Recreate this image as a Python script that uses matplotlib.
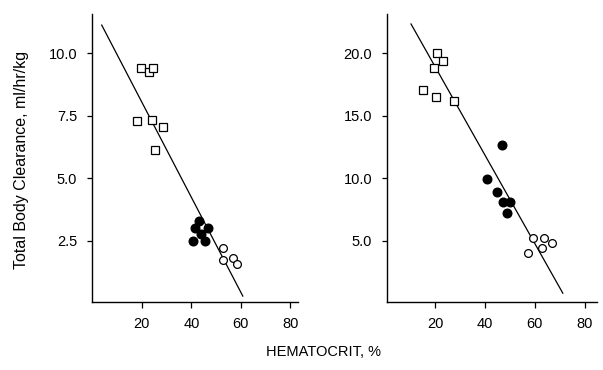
import matplotlib
matplotlib.use("Agg")
import matplotlib.pyplot as plt
import numpy as np

plt.rcParams['font.family'] = ['Liberation Sans', 'DejaVu Sans']

# left panel: total body clearance (ml/hr/kg) vs hematocrit (%)
left_sq_x = [19.6, 22.9, 24.5, 17.9, 24.1, 28.7, 25.2]
left_sq_y = [9.43, 9.24, 9.43, 7.30, 7.34, 7.04, 6.12]
left_fc_x = [43.1, 41.5, 46.9, 43.8, 40.6, 45.5]
left_fc_y = [3.30, 3.02, 3.02, 2.78, 2.50, 2.50]
left_oc_x = [52.7, 52.7, 57.0, 58.6]
left_oc_y = [2.22, 1.73, 1.82, 1.55]
left_fit = (11.86, -0.1905)   # intercept, slope
left_fit_range = (3.8, 60.8)

# right panel
right_sq_x = [20.7, 23.3, 19.6, 15.3, 20.4, 27.6]
right_sq_y = [20.0, 19.4, 18.8, 17.1, 16.5, 16.2]
right_fc_x = [46.7, 41.0, 44.7, 47.1, 50.1, 48.7]
right_fc_y = [12.64, 9.94, 8.93, 8.10, 8.10, 7.20]
right_oc_x = [59.4, 63.7, 66.8, 62.8, 57.4]
right_oc_y = [5.19, 5.19, 4.84, 4.44, 4.04]
right_fit = (26.05, -0.3548)
right_fit_range = (10.4, 71.2)

xticks = [20, 40, 60, 80]
left_yticks = [2.5, 5.0, 7.5, 10.0]
right_yticks = [5.0, 10.0, 15.0, 20.0]

W, H = 603, 370
fig = plt.figure(figsize=(W / 100, H / 100), dpi=100)
ax1 = fig.add_axes([92.3 / W, (H - 302) / H, (298 - 92.3) / W, (302 - 14) / H])
ax2 = fig.add_axes([387.3 / W, (H - 302) / H, (597 - 387.3) / W, (302 - 14) / H])


def draw(ax, sq_x, sq_y, fc_x, fc_y, oc_x, oc_y, fit, fit_range, yticks, xlim, ylim):
    xs = np.array(fit_range)
    ax.plot(xs, fit[0] + fit[1] * xs, color='black', lw=0.9, zorder=1)
    ax.plot(sq_x, sq_y, ls='none', marker='s', ms=5.2, mfc='white', mec='black', mew=0.9, zorder=2)
    ax.plot(fc_x, fc_y, ls='none', marker='o', ms=6.2, mfc='black', mec='black', zorder=2)
    ax.plot(oc_x, oc_y, ls='none', marker='o', ms=5.6, mfc='white', mec='black', mew=0.9, zorder=2)
    ax.set_xlim(*xlim)
    ax.set_ylim(*ylim)
    ax.set_xticks(xticks)
    ax.set_yticks(yticks)
    ax.set_yticklabels(['%.1f' % v for v in yticks])
    ax.spines['top'].set_visible(False)
    ax.spines['right'].set_visible(False)
    ax.spines['left'].set_linewidth(1.0)
    ax.spines['bottom'].set_linewidth(1.0)
    ax.tick_params(axis='x', direction='out', length=4.5, width=0.9, pad=6, labelsize=10.5)
    ax.tick_params(axis='y', direction='out', length=3.8, width=0.9, pad=7, labelsize=10.5)


draw(ax1, left_sq_x, left_sq_y, left_fc_x, left_fc_y, left_oc_x, left_oc_y,
     left_fit, left_fit_range, left_yticks, (0, 83.1), (0.04, 11.58))
draw(ax2, right_sq_x, right_sq_y, right_fc_x, right_fc_y, right_oc_x, right_oc_y,
     right_fit, right_fit_range, right_yticks, (0.9, 84.9), (0.08, 23.16))

fig.text(22 / W, 1 - 160 / H, 'Total Body Clearance, ml/hr/kg', rotation=90,
         ha='center', va='center', fontsize=11.5)
fig.text(323 / W, 1 - 352 / H, 'HEMATOCRIT, %', ha='center', va='center', fontsize=10.5)

fig.savefig('out.png', dpi=100)
